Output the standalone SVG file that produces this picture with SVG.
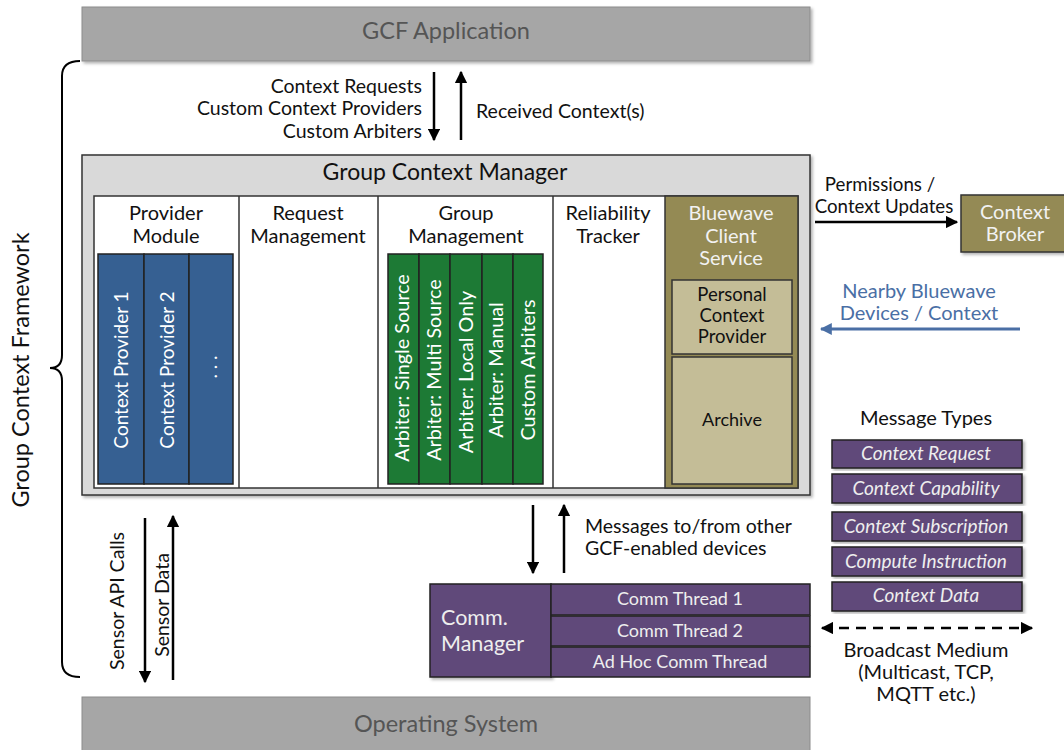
<svg xmlns="http://www.w3.org/2000/svg" width="1064" height="750" viewBox="0 0 1064 750">
<defs>
<filter id="sh" x="-5%" y="-5%" width="115%" height="115%"><feDropShadow dx="2" dy="2" stdDeviation="1.5" flood-color="#000" flood-opacity="0.3"/></filter>
<marker id="ah" viewBox="0 0 10 10" refX="9" refY="5" markerWidth="5" markerHeight="5" orient="auto-start-reverse"><path d="M0,0 L10,5 L0,10 z" fill="#000"/></marker>
<marker id="ahb" viewBox="0 0 10 10" refX="9" refY="5" markerWidth="4" markerHeight="4" orient="auto-start-reverse"><path d="M0,0 L10,5 L0,10 z" fill="#4a6fa5"/></marker>
<style>
text{font-family:Lato,"Noto Sans",sans-serif;}
.c{text-anchor:middle;}
.dk{fill:#111;}
.bar{fill:#a6a6a6;stroke:#8c8c8c;stroke-width:1;}
.bl{fill:#366092;stroke:#222;stroke-width:1.5;}
.gr{fill:#1d7a35;stroke:#222;stroke-width:1.5;}
.ol{fill:#948a54;stroke:#333;stroke-width:1.5;}
.lt{fill:#c4bd97;stroke:#333;stroke-width:1.5;}
.pu{fill:#60497a;stroke:#222;stroke-width:1.5;}
.ar{stroke:#000;stroke-width:2.5;fill:none;}
.h{font-size:20px;}
.v{font-size:19px;fill:#fff;}
.vg{font-size:19.8px;fill:#fff;}
.m{font-size:19px;font-style:italic;fill:#eee;text-anchor:middle;}
.t{font-size:18px;fill:#eee;text-anchor:middle;}
.l{font-size:19.5px;fill:#111;}
.r{font-size:20px;fill:#111;}
</style>
</defs>

<g id="gcf-application">
<rect class="bar" x="82" y="7" width="728" height="54" filter="url(#sh)"/>
<text class="c" x="446" y="39" font-size="23.5" fill="#555">GCF Application</text>
</g>

<g id="operating-system">
<rect class="bar" x="82" y="697" width="728" height="56"/>
<text class="c" x="446" y="732" font-size="23.5" fill="#555">Operating System</text>
</g>

<g id="framework-bracket">
<path d="M80,61 Q62,61 62,76 L62,355 Q62,368 50,368 Q62,368 62,381 L62,662 Q62,677 80,677" fill="none" stroke="#000" stroke-width="2"/>
<text class="c dk" transform="translate(29,370) rotate(-90)" font-size="23.5">Group Context Framework</text>
</g>

<g id="group-context-manager">
<rect x="82" y="155" width="728" height="340" fill="#d9d9d9" stroke="#333" stroke-width="1.5" filter="url(#sh)"/>
<text class="c dk" x="445" y="180" font-size="23">Group Context Manager</text>
<rect x="94" y="196" width="704" height="292" fill="#fff" stroke="#333" stroke-width="1.5"/>
<line x1="239" y1="196" x2="239" y2="488" stroke="#333" stroke-width="1.5"/>
<line x1="378" y1="196" x2="378" y2="488" stroke="#333" stroke-width="1.5"/>
<line x1="553" y1="196" x2="553" y2="488" stroke="#333" stroke-width="1.5"/>
</g>

<g id="provider-module">
<text class="c dk h" x="166" y="220">Provider</text>
<text class="c dk h" x="166" y="243">Module</text>
<rect class="bl" x="98" y="254" width="46" height="230"/>
<rect class="bl" x="144" y="254" width="45" height="230"/>
<rect class="bl" x="189" y="254" width="44" height="230"/>
<text class="c v" transform="translate(128,370) rotate(-90)">Context Provider 1</text>
<text class="c v" transform="translate(174,370) rotate(-90)">Context Provider 2</text>
<text class="c v" transform="translate(217,367) rotate(-90)">. . .</text>
</g>

<g id="request-management">
<text class="c dk h" x="308" y="220">Request</text>
<text class="c dk h" x="308" y="243">Management</text>
</g>

<g id="group-management">
<text class="c dk h" x="466" y="220">Group</text>
<text class="c dk h" x="466" y="243">Management</text>
<rect class="gr" x="388" y="254" width="31" height="230"/>
<rect class="gr" x="419" y="254" width="31" height="230"/>
<rect class="gr" x="450" y="254" width="32" height="230"/>
<rect class="gr" x="482" y="254" width="31" height="230"/>
<rect class="gr" x="513" y="254" width="30" height="230"/>
<text class="c vg" transform="translate(409,368) rotate(-90)">Arbiter: Single Source</text>
<text class="c vg" transform="translate(441,370) rotate(-90)">Arbiter: Multi Source</text>
<text class="c vg" transform="translate(473,372) rotate(-90)">Arbiter:  Local Only</text>
<text class="c vg" transform="translate(503,370) rotate(-90)">Arbiter: Manual</text>
<text class="c vg" transform="translate(535,370) rotate(-90)">Custom Arbiters</text>
</g>

<g id="reliability-tracker">
<text class="c dk h" x="608" y="220">Reliability</text>
<text class="c dk h" x="608" y="243">Tracker</text>
</g>

<g id="bluewave-client-service">
<rect class="ol" x="665" y="196" width="133" height="292"/>
<text class="c h" x="731" y="220" fill="#f2f2f2">Bluewave</text>
<text class="c h" x="731" y="243" fill="#f2f2f2">Client</text>
<text class="c h" x="731" y="265" fill="#f2f2f2">Service</text>
<rect class="lt" x="672" y="280" width="120" height="74"/>
<text class="c dk" x="732" y="301" font-size="18.5">Personal</text>
<text class="c dk" x="732" y="322" font-size="18.5">Context</text>
<text class="c dk" x="732" y="343" font-size="18.5">Provider</text>
<rect class="lt" x="672" y="357" width="120" height="127"/>
<text class="c dk" x="732" y="426" font-size="18">Archive</text>
</g>

<g id="context-broker">
<rect class="ol" x="961" y="195" width="106" height="57" filter="url(#sh)"/>
<text class="c h" x="1015" y="219" fill="#f2f2f2">Context</text>
<text class="c h" x="1015" y="241" fill="#f2f2f2">Broker</text>
</g>

<g id="message-types">
<text class="c r" x="926" y="425">Message Types</text>
<rect class="pu" x="832" y="440" width="190" height="28" filter="url(#sh)"/>
<rect class="pu" x="832" y="474" width="190" height="29" filter="url(#sh)"/>
<rect class="pu" x="832" y="512" width="190" height="29" filter="url(#sh)"/>
<rect class="pu" x="832" y="547" width="190" height="29" filter="url(#sh)"/>
<rect class="pu" x="832" y="582" width="190" height="29" filter="url(#sh)"/>
<text class="m" x="926" y="460">Context Request</text>
<text class="m" x="926" y="495">Context Capability</text>
<text class="m" x="926" y="533">Context Subscription</text>
<text class="m" x="926" y="568">Compute Instruction</text>
<text class="m" x="926" y="602">Context Data</text>
</g>

<g id="comm-manager">
<rect class="pu" x="430" y="584" width="121" height="93" filter="url(#sh)"/>
<text x="441" y="625" font-size="21.5" fill="#eee">Comm.</text>
<text x="441" y="651" font-size="21.5" fill="#eee">Manager</text>
<rect class="pu" x="551" y="584" width="259" height="31"/>
<rect class="pu" x="551" y="616" width="259" height="30"/>
<rect class="pu" x="551" y="647" width="259" height="30"/>
<text class="t" x="680" y="605">Comm Thread 1</text>
<text class="t" x="680" y="637">Comm Thread 2</text>
<text class="t" x="680" y="668">Ad Hoc Comm Thread</text>
</g>

<g id="connectors">
<line class="ar" x1="434" y1="72" x2="434" y2="140" marker-end="url(#ah)"/>
<line class="ar" x1="461" y1="140" x2="461" y2="72" marker-end="url(#ah)"/>
<line class="ar" x1="815" y1="222" x2="957" y2="222" marker-end="url(#ah)"/>
<line x1="1020" y1="329" x2="821" y2="329" stroke="#4a6fa5" stroke-width="3" marker-end="url(#ahb)"/>
<line class="ar" x1="533" y1="505" x2="533" y2="573" marker-end="url(#ah)"/>
<line class="ar" x1="564" y1="573" x2="564" y2="505" marker-end="url(#ah)"/>
<line class="ar" x1="145" y1="518" x2="145" y2="682" marker-end="url(#ah)"/>
<line class="ar" x1="173" y1="680" x2="173" y2="516" marker-end="url(#ah)"/>
<line class="ar" x1="822" y1="628" x2="1032" y2="628" stroke-dasharray="10,7" marker-start="url(#ah)" marker-end="url(#ah)"/>
</g>

<g id="labels">
<text x="422" y="93" text-anchor="end" class="l">Context Requests</text>
<text x="422" y="115" text-anchor="end" class="l">Custom Context Providers</text>
<text x="422" y="138" text-anchor="end" class="l">Custom Arbiters</text>
<text x="476" y="118" class="l">Received Context(s)</text>
<text class="c" x="880" y="191" font-size="18.7" fill="#111">Permissions /</text>
<text class="c" x="884" y="213" font-size="18.7" fill="#111">Context Updates</text>
<text class="c" x="919" y="298" font-size="20" fill="#4a6fa5">Nearby Bluewave</text>
<text class="c" x="919" y="320" font-size="20" fill="#4a6fa5">Devices / Context</text>
<text x="585" y="533" class="l">Messages to/from other</text>
<text x="585" y="555" class="l">GCF-enabled devices</text>
<text class="c" transform="translate(124,601) rotate(-90)" font-size="19.5" fill="#111">Sensor API Calls</text>
<text class="c" transform="translate(169,605) rotate(-90)" font-size="19.5" fill="#111">Sensor Data</text>
<text class="c r" x="926" y="657">Broadcast Medium</text>
<text class="c r" x="926" y="679">(Multicast, TCP,</text>
<text class="c r" x="926" y="701">MQTT etc.)</text>
</g>
</svg>
